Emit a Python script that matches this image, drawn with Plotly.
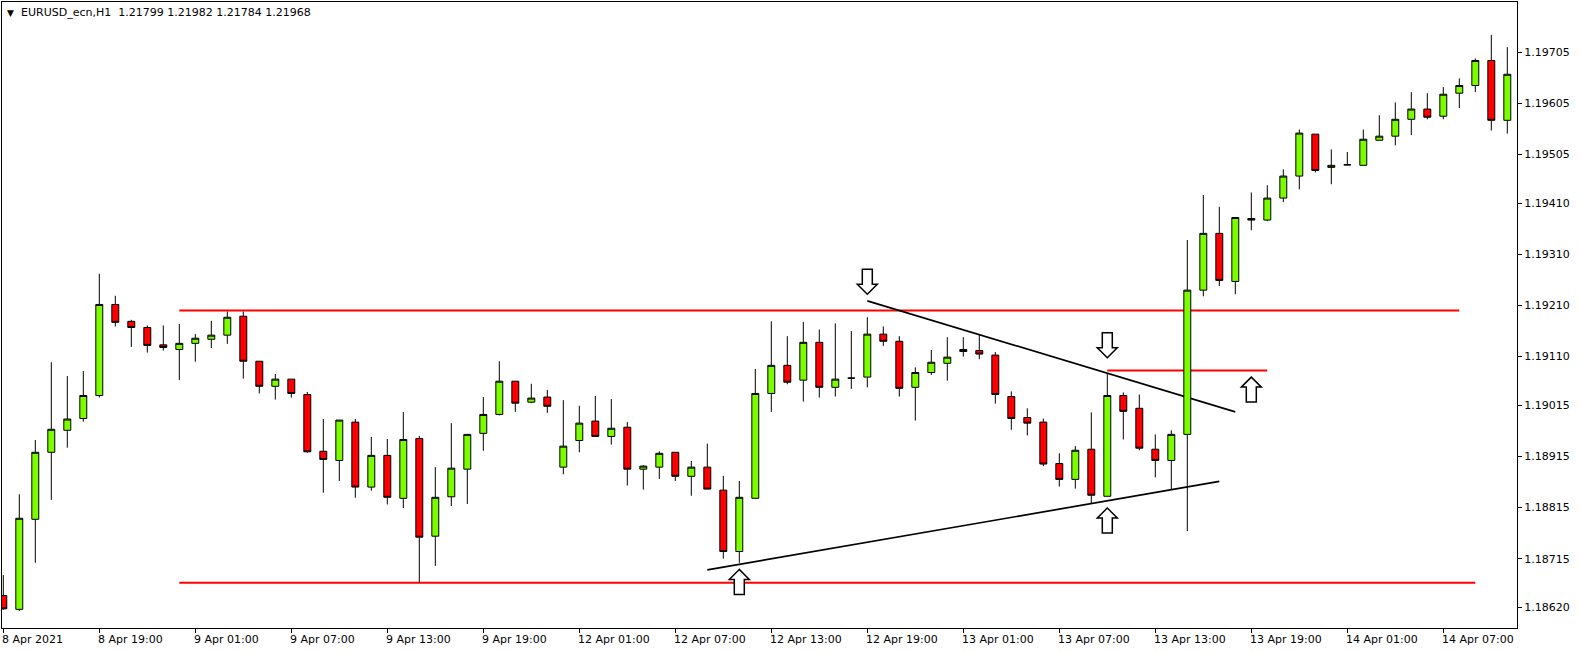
import plotly.graph_objects as go

# ---------------- data (EURUSD H1) ----------------
opens = [1.18643, 1.18616, 1.18792, 1.18923, 1.18966, 1.18989, 1.19034, 1.19212, 1.19179, 1.19167,
         1.19133, 1.19124, 1.19136, 1.19144, 1.19152, 1.19189, 1.19101, 1.19052, 1.19066, 1.19036,
         1.18925, 1.18907, 1.18982, 1.18855, 1.18917, 1.18833, 1.18950, 1.18759, 1.18836, 1.18890,
         1.18960, 1.18997, 1.19062, 1.19021, 1.19031, 1.18894, 1.18946, 1.18984, 1.18954, 1.18972,
         1.18890, 1.18894, 1.18923, 1.18876, 1.18894, 1.18849, 1.18729, 1.18833, 1.19038, 1.19093,
         1.19064, 1.19138, 1.19050, 1.19068, 1.19070, 1.19154, 1.19140, 1.19050, 1.19079, 1.19097,
         1.19124, 1.19122, 1.19113, 1.19032, 1.18991, 1.18982, 1.18901, 1.18870, 1.18929, 1.18837,
         1.19034, 1.19009, 1.18929, 1.18907, 1.18958, 1.19240, 1.19351, 1.19257, 1.19380, 1.19377,
         1.19420, 1.19463, 1.19545, 1.19480, 1.19485, 1.19484, 1.19533, 1.19541, 1.19574, 1.19594,
         1.19580, 1.19625, 1.19640, 1.19689, 1.19572]
highs = [1.18683, 1.18841, 1.18947, 1.19099, 1.19072, 1.19082, 1.19272, 1.19229, 1.19182, 1.19171,
         1.19171, 1.19174, 1.19154, 1.19180, 1.19198, 1.19198, 1.19101, 1.19076, 1.19066, 1.19041,
         1.18988, 1.18986, 1.18988, 1.18953, 1.18949, 1.19002, 1.18955, 1.18894, 1.18980, 1.18958,
         1.19031, 1.19101, 1.19062, 1.19057, 1.19045, 1.19025, 1.19014, 1.19033, 1.19027, 1.18982,
         1.18898, 1.18925, 1.18923, 1.18906, 1.18940, 1.18877, 1.18867, 1.19086, 1.19179, 1.19150,
         1.19178, 1.19163, 1.19175, 1.19160, 1.19187, 1.19169, 1.19150, 1.19089, 1.19123, 1.19148,
         1.19148, 1.19152, 1.19119, 1.19042, 1.19009, 1.18989, 1.18921, 1.18935, 1.19001, 1.19077,
         1.19040, 1.19036, 1.18958, 1.18966, 1.19338, 1.19426, 1.19403, 1.19382, 1.19431, 1.19445,
         1.19476, 1.19554, 1.19545, 1.19515, 1.19510, 1.19554, 1.19582, 1.19607, 1.19627, 1.19625,
         1.19637, 1.19654, 1.19693, 1.19739, 1.19715]
lows = [1.18615, 1.18613, 1.18707, 1.18830, 1.18932, 1.18983, 1.19030, 1.19169, 1.19129, 1.19118,
        1.19122, 1.19064, 1.19100, 1.19127, 1.19135, 1.19067, 1.19038, 1.19026, 1.19030, 1.18922,
        1.18844, 1.18867, 1.18834, 1.18848, 1.18821, 1.18814, 1.18668, 1.18701, 1.18818, 1.18822,
        1.18926, 1.18995, 1.19002, 1.19019, 1.19000, 1.18880, 1.18923, 1.18954, 1.18938, 1.18858,
        1.18850, 1.18871, 1.18867, 1.18838, 1.18851, 1.18715, 1.18707, 1.18833, 1.19002, 1.19056,
        1.19022, 1.19030, 1.19032, 1.19047, 1.19050, 1.19131, 1.19032, 1.18985, 1.19074, 1.19063,
        1.19110, 1.19105, 1.19018, 1.18967, 1.18956, 1.18896, 1.18856, 1.18852, 1.18823, 1.18837,
        1.18948, 1.18927, 1.18874, 1.18851, 1.18769, 1.19228, 1.19248, 1.19232, 1.19357, 1.19375,
        1.19412, 1.19437, 1.19470, 1.19447, 1.19485, 1.19484, 1.19533, 1.19523, 1.19543, 1.19574,
        1.19574, 1.19596, 1.19627, 1.19552, 1.19546]
closes = [1.18617, 1.18794, 1.18923, 1.18968, 1.18988, 1.19034, 1.19212, 1.19177, 1.19167, 1.19132,
          1.19128, 1.19136, 1.19146, 1.19152, 1.19187, 1.19101, 1.19052, 1.19066, 1.19038, 1.18924,
          1.18909, 1.18986, 1.18855, 1.18917, 1.18835, 1.18948, 1.18757, 1.18835, 1.18892, 1.18958,
          1.18997, 1.19062, 1.19019, 1.19029, 1.19013, 1.18935, 1.18980, 1.18954, 1.18970, 1.18890,
          1.18896, 1.18921, 1.18876, 1.18894, 1.18851, 1.18729, 1.18835, 1.19038, 1.19093, 1.19060,
          1.19138, 1.19050, 1.19066, 1.19068, 1.19154, 1.19140, 1.19048, 1.19079, 1.19099, 1.19109,
          1.19120, 1.19115, 1.19036, 1.18989, 1.18980, 1.18900, 1.18870, 1.18927, 1.18839, 1.19034,
          1.19003, 1.18931, 1.18907, 1.18958, 1.19240, 1.19351, 1.19259, 1.19382, 1.19377, 1.19420,
          1.19463, 1.19547, 1.19474, 1.19484, 1.19485, 1.19535, 1.19541, 1.19574, 1.19594, 1.19578,
          1.19623, 1.19640, 1.19689, 1.19572, 1.19662]
bar_index = list(range(len(opens)))

x_tick_index = [0, 6, 12, 18, 24, 30, 36, 42, 48, 54, 60, 66, 72, 78, 84, 90]
x_tick_text = ["8 Apr 2021", "8 Apr 19:00", "9 Apr 01:00", "9 Apr 07:00", "9 Apr 13:00",
               "9 Apr 19:00", "12 Apr 01:00", "12 Apr 07:00", "12 Apr 13:00", "12 Apr 19:00",
               "13 Apr 01:00", "13 Apr 07:00", "13 Apr 13:00", "13 Apr 19:00", "14 Apr 01:00",
               "14 Apr 07:00"]
y_tick_values = [1.19705, 1.19605, 1.19505, 1.19410, 1.19310, 1.19210,
                 1.19110, 1.19015, 1.18915, 1.18815, 1.18715, 1.18620]

title_text = "EURUSD_ecn,H1\u00a0\u00a01.21799 1.21982 1.21784 1.21968"

# horizontal levels: (price, start bar, end bar)
level_prices = [1.19200, 1.18668, 1.19083]
level_starts = [11, 11, 69]
level_ends = [91, 92, 79]

# trend lines: (start bar, start price, end bar, end price)
trend_x0 = [54, 44]
trend_y0 = [1.19219, 1.18693]
trend_x1 = [77, 76]
trend_y1 = [1.19002, 1.18866]

# hollow arrows: bar, tip price, direction
arrow_bars = [54, 69, 46, 69, 78]
arrow_prices = [1.19232, 1.19108, 1.18694, 1.18814, 1.19070]
arrow_dirs = ["down", "down", "up", "up", "up"]

FONT = "DejaVu Sans"

fig = go.Figure()
fig.add_trace(go.Candlestick(
    x=bar_index, open=opens, high=highs, low=lows, close=closes,
    increasing=dict(line=dict(color="black", width=1), fillcolor="#7CFC00"),
    decreasing=dict(line=dict(color="black", width=1), fillcolor="#FF0000"),
    whiskerwidth=0, showlegend=False, hoverinfo="skip",
))

shapes = []
for p, s, e in zip(level_prices, level_starts, level_ends):
    shapes.append(dict(type="line", xref="x", yref="y", x0=s, x1=e, y0=p, y1=p,
                       line=dict(color="#FF0000", width=2), layer="below"))
for a, b, c, d in zip(trend_x0, trend_y0, trend_x1, trend_y1):
    shapes.append(dict(type="line", xref="x", yref="y", x0=a, y0=b, x1=c, y1=d,
                       line=dict(color="black", width=1.7), layer="below"))

down_path = "M 0 0 L -10 10 L -5 10 L -5 25 L 5 25 L 5 10 L 10 10 Z"
up_path = "M 0 0 L -10 -10 L -5 -10 L -5 -25 L 5 -25 L 5 -10 L 10 -10 Z"
for b, p, d in zip(arrow_bars, arrow_prices, arrow_dirs):
    shapes.append(dict(type="path", xref="x", yref="y", xsizemode="pixel", ysizemode="pixel",
                       xanchor=b, yanchor=p, path=down_path if d == "down" else up_path,
                       fillcolor="white", line=dict(color="black", width=1.5), layer="above"))

annotations = []
for xi, t in zip(x_tick_index, x_tick_text):
    annotations.append(dict(x=xi, y=0, xref="x", yref="paper", text=t, showarrow=False,
                            xanchor="left", yanchor="middle", xshift=-1, yshift=-11.5,
                            borderpad=0, borderwidth=0,
                            font=dict(family=FONT, size=11, color="black")))
annotations.append(dict(x=0, y=1, xref="paper", yref="paper", text="\u25bc", showarrow=False,
                        xanchor="left", yanchor="middle", xshift=5, yshift=-10.5,
                        borderpad=0, borderwidth=0,
                        font=dict(family=FONT, size=9, color="black")))
annotations.append(dict(x=0, y=1, xref="paper", yref="paper", text=title_text, showarrow=False,
                        xanchor="left", yanchor="middle", xshift=19, yshift=-10.5,
                        borderpad=0, borderwidth=0,
                        font=dict(family=FONT, size=11, color="black")))

fig.update_layout(
    width=1580, height=652,
    margin=dict(l=2, r=63, t=2, b=24),
    paper_bgcolor="white", plot_bgcolor="white",
    boxgap=0.38,
    shapes=shapes, annotations=annotations,
    font=dict(family=FONT, size=11, color="black"),
    xaxis=dict(range=[-0.081, 94.606], showgrid=False, zeroline=False,
               showline=True, linecolor="black", linewidth=1, mirror=True,
               tickmode="array", tickvals=x_tick_index, ticktext=x_tick_text,
               showticklabels=False, ticks="outside", ticklen=4, tickcolor="black",
               rangeslider=dict(visible=False), fixedrange=True),
    yaxis=dict(range=[1.185795, 1.198033], side="right", showgrid=False, zeroline=False,
               showline=True, linecolor="black", linewidth=1, mirror=True,
               tickmode="array", tickvals=y_tick_values,
               ticktext=["%.5f" % v for v in y_tick_values],
               ticks="outside", ticklen=4, tickcolor="black",
               tickfont=dict(family=FONT, size=11, color="black"), fixedrange=True),
)

fig.write_html("out.html", config={"displayModeBar": False},
               post_script="document.body.style.margin='0';document.body.style.overflow='hidden';")
